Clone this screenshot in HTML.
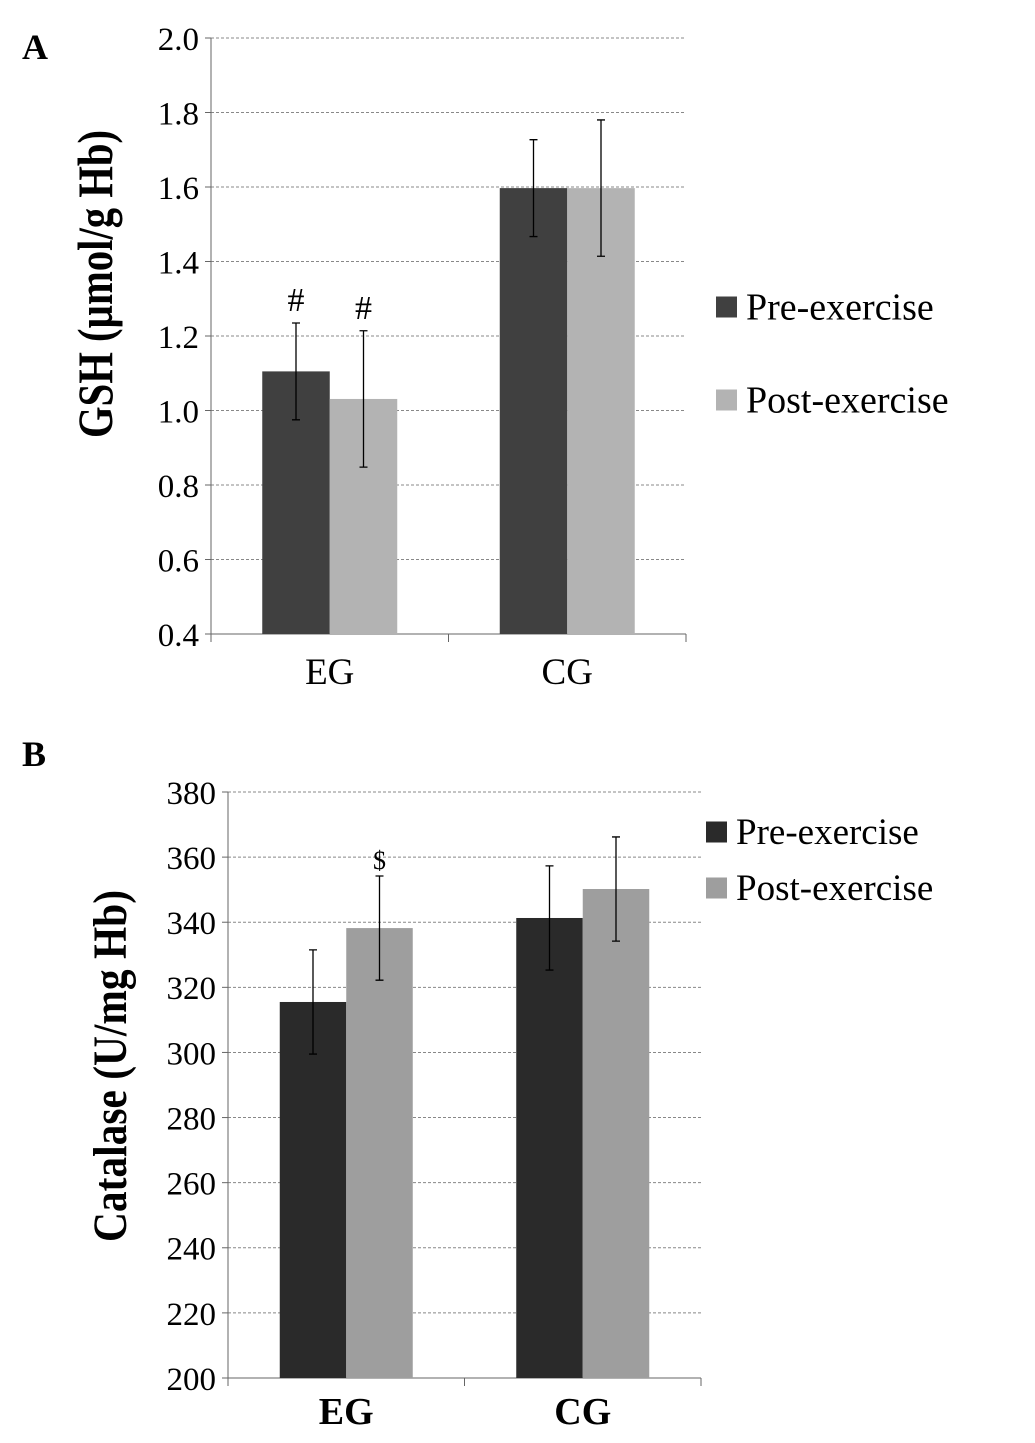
<!DOCTYPE html>
<html><head><meta charset="utf-8">
<style>
html,body{margin:0;padding:0;background:#fff;}
svg text{font-family:"Liberation Serif",serif;}
</style></head>
<body>
<svg id="chart" width="1035" height="1438" viewBox="0 0 1035 1438" xmlns="http://www.w3.org/2000/svg">
<text x="22" y="59" font-size="36" font-weight="bold">A</text>
<text x="22" y="766" font-size="36" font-weight="bold">B</text>
<g id="pa"></g>
<g id="pb"></g>
</svg>
<script>
const categories = ["EG","CG"];
const seriesNames = ["Pre-exercise","Post-exercise"];
const aPre = [1.105, 1.597];
const aPost = [1.031, 1.597];
const aPreErr = [0.13, 0.13];
const aPostErr = [0.183, 0.183];
const aTicks = ["0.4","0.6","0.8","1.0","1.2","1.4","1.6","1.8","2.0"];
const aMarks = ["#","#","",""];
const bPre = [315.5, 341.3];
const bPost = [338.2, 350.2];
const bPreErr = [16, 16];
const bPostErr = [16, 16];
const bTicks = ["200","220","240","260","280","300","320","340","360","380"];
const bMarks = ["","$","",""];

const NS="http://www.w3.org/2000/svg";
function mk(parent,tag,attrs,text){const e=document.createElementNS(NS,tag);for(const k in attrs)e.setAttribute(k,attrs[k]);if(text!==undefined)e.textContent=text;parent.appendChild(e);return e;}

function panel(g,cfg){
  const y=v=>cfg.y0-(v-cfg.min)/(cfg.max-cfg.min)*(cfg.y0-cfg.y1);
  const catW=(cfg.x1-cfg.x0)/categories.length;
  const ticks=cfg.ticks;
  ticks.forEach((t,i)=>{
    const v=parseFloat(t), yy=y(v);
    if(i>0){const l=mk(g,'line',{x1:cfg.x0,x2:cfg.x1,y1:yy,y2:yy,stroke:'#888','stroke-dasharray':'3,2','stroke-width':1});
      
      }
    const tk=mk(g,'line',{x1:cfg.x0-6,x2:cfg.x0,y1:yy,y2:yy,stroke:'#666'});
    
    
    const tx=mk(g,'text',{x:cfg.x0-12,y:yy+cfg.tickSize*0.36,'font-size':cfg.tickSize,'text-anchor':'end'},t);
    
    
  });
  const ax=mk(g,'line',{x1:cfg.x0,x2:cfg.x0,y1:cfg.y1,y2:cfg.y0,stroke:'#666'});
  
  
  const xa=mk(g,'line',{x1:cfg.x0,x2:cfg.x1,y1:cfg.y0,y2:cfg.y0,stroke:'#666'});
  
  
  for(let i=0;i<=categories.length;i++){
    const xt=mk(g,'line',{x1:cfg.x0+i*catW,x2:cfg.x0+i*catW,y1:cfg.y0,y2:cfg.y0+8,stroke:'#666'});
    
    
  }
  const bw=cfg.bw;
  categories.forEach((c,i)=>{
    const cx=cfg.x0+catW*(i+0.5);
    const ser=[[cfg.pre,cfg.preErr,cfg.c1],[cfg.post,cfg.postErr,cfg.c2]];
    ser.forEach((s,j)=>{
      const v=s[0][i], x=cx+(j-1)*bw;
      const r=mk(g,'rect',{x:x,y:y(v),width:bw,height:cfg.y0-y(v),fill:s[2]});
      
      
      const mx=x+bw/2, e=s[1][i];
      const el=mk(g,'path',{d:`M${mx},${y(v+e)}V${y(v-e)}M${mx-4},${y(v+e)}H${mx+4}M${mx-4},${y(v-e)}H${mx+4}`,stroke:'#000','stroke-width':1.3,fill:'none'});
      
      
      const m=cfg.marks[i*2+j];
      if(m){const t=mk(g,'text',{x:mx,y:y(v+e)-cfg.markOff,'font-size':cfg.markSize,'text-anchor':'middle','font-family':cfg.markFont},m);
        
        }
    });
    const lb=mk(g,'text',{x:cx,y:cfg.y0+cfg.catOff,'font-size':cfg.catSize,'font-weight':cfg.catWeight,'text-anchor':'middle'},c);
    
    
  });
  const yt=mk(g,'text',{x:0,y:0,'font-size':cfg.titleSize,'font-weight':'bold','text-anchor':'middle',textLength:cfg.titleLen,lengthAdjust:'spacingAndGlyphs',transform:`translate(${cfg.titleX},${cfg.titleY}) rotate(-90)`},cfg.title);
  
  
  seriesNames.forEach((n,j)=>{
    const ly=cfg.legY+j*cfg.legGap;
    const sq=mk(g,'rect',{x:cfg.legX,y:ly-cfg.legSq/2,width:cfg.legSq,height:cfg.legSq,fill:j?cfg.c2:cfg.c1});
    
    
    const t=mk(g,'text',{x:cfg.legX+cfg.legSq+9,y:ly+cfg.legSize*0.33,'font-size':cfg.legSize},n);
    
    
  });
}
panel(document.getElementById('pa'),{x0:211,x1:686,y0:634,y1:38,min:0.4,max:2.0,ticks:aTicks,tickSize:33,pre:aPre,post:aPost,preErr:aPreErr,postErr:aPostErr,c1:'#404040',c2:'#b3b3b3',bw:67.5,marks:aMarks,markOff:12,markSize:34,markFont:'Liberation Serif',catOff:50,catSize:37,catWeight:'normal',title:'GSH (µmol/g Hb)',titleSize:50,titleLen:308,titleX:112,titleY:284,legX:716,legY:307,legGap:93,legSq:21,legSize:38});
panel(document.getElementById('pb'),{x0:228,x1:701,y0:1378,y1:792,min:200,max:380,ticks:bTicks,tickSize:33,pre:bPre,post:bPost,preErr:bPreErr,postErr:bPostErr,c1:'#2a2a2a',c2:'#9e9e9e',bw:66.5,marks:bMarks,markOff:7,markSize:26,markFont:'Liberation Sans',catOff:46,catSize:38,catWeight:'bold',title:'Catalase (U/mg Hb)',titleSize:48,titleLen:352,titleX:126,titleY:1066,legX:706,legY:832,legGap:56,legSq:21,legSize:37});
</script>
</body></html>
